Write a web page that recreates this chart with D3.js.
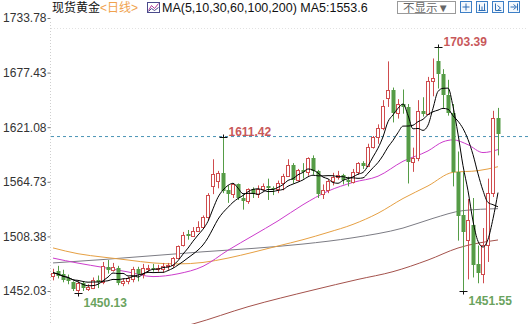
<!DOCTYPE html>
<html><head><meta charset="utf-8">
<script src="https://cdn.jsdelivr.net/npm/d3@7"></script>
<style>
html,body{margin:0;padding:0;background:#fff;}
svg{display:block;}
</style></head>
<body>
<svg id="c" width="528" height="324"></svg>
<script>
// ---------- data ----------
const dates = ["11-19","11-20","11-21","11-22","11-25","11-26","11-27","11-28","11-29",
"12-02","12-03","12-04","12-05","12-06","12-09","12-10","12-11","12-12","12-13","12-16","12-17","12-18","12-19","12-20","12-23","12-24","12-26","12-27","12-30","12-31",
"01-02","01-03","01-06","01-07","01-08","01-09","01-10","01-13","01-14","01-15","01-16","01-17","01-20","01-21","01-22","01-23","01-24","01-27","01-28","01-29","01-30","01-31",
"02-03","02-04","02-05","02-06","02-07","02-10","02-11","02-12","02-13","02-14","02-17","02-18","02-19","02-20","02-21","02-24","02-25","02-26","02-27","02-28",
"03-02","03-03","03-04","03-05","03-06","03-09","03-10","03-11","03-12","03-13","03-16","03-17","03-18","03-19","03-20","03-23","03-24","03-25"];
const open  = [1467,1473,1470,1465,1461,1453,1460,1454,1455,1463,1461,1477,1474,1476,1460,1462,1464,1475,1470,1475,1476,1475,1475,1478,1479,1486,1499,1511,1509,1514,
1518,1528,1560,1566,1574,1556,1552,1562,1548,1545,1557,1552,1557,1560,1558,1557,1563,1571,1582,1567,1577,1575,1589,1576,1552,1556,1566,1570,1572,1567,
1565,1575,1584,1581,1601,1611,1620,1651,1659,1636,1645,1642,1585,1589,1638,1635,1669,1689,1676,1654,1636,1575,1530,1505,1520,1480,1470,1499,1553,1631];
const high  = [1475,1478,1474,1469,1462,1462,1462,1459,1466,1468,1482,1484,1481,1478,1465,1467,1477,1477,1480,1479,1480,1479,1481,1481,1487,1499,1513,1515,1518,1524,
1530,1553,1588,1576,1611.42,1561,1563,1563,1552,1558,1559,1561,1563,1568,1560,1566,1573,1588,1584,1578,1584,1590,1592,1577,1562,1567,1574,1576,1573,1570,
1578,1585,1586,1604,1612,1624,1649,1689,1662,1650,1660,1645,1600,1649,1652,1673,1692,1703.39,1681,1670,1645,1596,1575,1547,1548,1499,1517,1568,1638,1641];
const low   = [1463,1465,1461,1459,1452,1450.13,1452,1452,1454,1455,1459,1470,1472,1458,1457,1459,1461,1462,1465,1472,1472,1472,1471,1474,1476,1485,1498,1505,1508,1513,
1517,1525,1552,1558,1553,1543,1548,1546,1536,1542,1548,1548,1556,1546,1551,1553,1556,1570,1563,1565,1568,1571,1572,1548,1547,1553,1561,1567,1562,1560,
1563,1572,1578,1580,1599,1604,1618,1642,1626,1630,1635,1563,1575,1586,1632,1634,1653,1661,1641,1633,1560,1504,1451.55,1464,1466,1460,1460,1482,1549,1592];
const close = [1471,1468,1463,1462,1454,1460,1455,1456,1463,1461,1478,1474,1477,1460,1462,1465,1475,1470,1476,1476,1475,1476,1478,1478.5,1486,1498,1510,1509,1514,1518,
1528,1551,1573,1574,1555,1552,1562,1548,1545,1557,1552,1557,1560,1558,1557,1563,1571,1582,1567,1577,1575,1589,1576,1552,1556,1566,1570,1572,1567,1565,
1575,1584,1581,1601,1611,1620,1643,1659,1636,1645,1642,1585,1589,1638,1635,1669,1672,1676,1654,1636,1575,1529,1513,1525,1479,1471,1499,1553,1631,1614];

// longer moving averages at sample candles
const ma30Idx  = [0,5,10,15,20,25,30,35,40,45,50,55,60,65,70,75,78,80,83,86,89];
const ma30     = [1486.0,1480.8,1476.4,1471.7,1466.9,1469.8,1477.5,1494.1,1509.2,1524.4,1541.1,1555.1,1564.1,1570.5,1585.9,1596.6,1606.0,1608.0,1603.0,1594.9,1598.0];
const ma60Idx  = [0,5,10,15,20,25,30,35,40,45,50,55,60,65,70,75,80,85,89];
const ma60     = [1496.5,1490.5,1487,1484,1481,1480,1481.5,1486,1492,1498.5,1505,1512.5,1520.8,1532.3,1547.5,1560.5,1574.5,1576.2,1580.3];
const ma100Idx = [0,10,20,30,40,50,60,70,76,82,89];
const ma100    = [1481,1484.5,1488.5,1492.5,1496,1500.5,1507,1517,1527,1535,1537];
const ma200Idx = [0,14,28,39,52,61,68,75,81,89];
const ma200    = [1385,1402,1418,1435.8,1453,1464,1472,1484,1496.4,1504.7];

const yTicks = [1452.03,1508.38,1564.73,1621.08,1677.43,1733.78];
const refLevel = 1611.42;
const marks = [ // index of extreme candle, kind
  {i:34, kind:"high"}, {i:77, kind:"high"}, {i:5, kind:"low"}, {i:82, kind:"low"}];

// ---------- drawing ----------
const W = 528, H = 324;
const LATIN = "'Liberation Sans', Arial, 'Noto Sans CJK SC', sans-serif";
const RED = "#cf4c4e", GREEN = "#559c46";
const svg = d3.select("#c");

const x = d3.scalePoint().domain(dates).range([53, 498]);
const y = d3.scaleLinear().domain([1452.03, 1733.78]).range([291, 18]);

svg.append("defs").append("clipPath").attr("id","plot")
  .append("rect").attr("x",51).attr("y",29).attr("width",W-51).attr("height",H-29);

// frame lines
svg.append("line").attr("x1",50.5).attr("x2",50.5).attr("y1",22).attr("y2",H)
  .attr("stroke","#cfcfcf").attr("stroke-dasharray","1,2");
svg.append("line").attr("x1",51).attr("x2",W).attr("y1",28.5).attr("y2",28.5)
  .attr("stroke","#e2e2e2").attr("stroke-dasharray","1,2");

// y axis
const gA = svg.append("g").attr("transform","translate(50.5,0)")
  .call(d3.axisLeft(y).tickValues(yTicks).tickFormat(d3.format(".2f")).tickSize(3).tickPadding(1));
gA.select(".domain").remove();
gA.attr("font-family", LATIN).attr("font-size", 12);
gA.selectAll("line").attr("stroke","#777");
gA.selectAll("text").attr("fill","#333");

const plot = svg.append("g").attr("clip-path","url(#plot)");

// reference dashed line at the January high
plot.append("line").attr("x1",51).attr("x2",W).attr("y1",y(refLevel)).attr("y2",y(refLevel))
  .attr("stroke","#4a93b5").attr("stroke-dasharray","3,3").attr("stroke-width",1);

// moving averages
const avg = (n) => close.map((_, i) => d3.mean(close.slice(Math.max(0, i-n+1), i+1)));
const ma5 = avg(5), ma10 = avg(10);
const lineFull = d3.line().x((d,i)=>x(dates[i])).y(d=>y(d)).curve(d3.curveMonotoneX);
const lineSparse = (idx) => d3.line().x((d,k)=>x(dates[idx[k]])).y(d=>y(d)).curve(d3.curveMonotoneX);

const maDefs = [
  {d: lineSparse(ma200Idx)(ma200), c:"#a4524c"},
  {d: lineSparse(ma100Idx)(ma100), c:"#7c7c84"},
  {d: lineSparse(ma60Idx)(ma60),   c:"#e6a043"},
  {d: lineSparse(ma30Idx)(ma30),   c:"#cc3ccc"},
];
maDefs.forEach(m => plot.append("path").attr("d", m.d).attr("fill","none")
  .attr("stroke", m.c).attr("stroke-width",1));

// candles
const cg = plot.append("g");
dates.forEach((dt, i) => {
  const cx = Math.round(x(dt));
  const o = open[i], c = close[i], h = high[i], l = low[i];
  const up = c >= o;
  const col = up ? RED : GREEN;
  const yt = Math.round(y(Math.max(o,c))), yb = Math.round(y(Math.min(o,c)));
  const yh = y(h), yl = y(l);
  if (up) {
    cg.append("line").attr("x1",cx+0.5).attr("x2",cx+0.5).attr("y1",yh).attr("y2",yt)
      .attr("stroke",col);
    cg.append("line").attr("x1",cx+0.5).attr("x2",cx+0.5).attr("y1",yb+1).attr("y2",yl)
      .attr("stroke",col);
    cg.append("rect").attr("x",cx-1.5).attr("y",yt+0.5).attr("width",3)
      .attr("height",Math.max(1, yb-yt)).attr("fill","#fff").attr("stroke",col);
  } else {
    cg.append("line").attr("x1",cx+0.5).attr("x2",cx+0.5).attr("y1",yh).attr("y2",yl)
      .attr("stroke",col);
    cg.append("rect").attr("x",cx-1.5).attr("y",yt).attr("width",4)
      .attr("height",Math.max(1, yb-yt)).attr("fill",col);
  }
});

// short MAs on top of candles
plot.append("path").attr("d", lineFull(ma10)).attr("fill","none").attr("stroke","#000").attr("stroke-width",1);
plot.append("path").attr("d", lineFull(ma5)).attr("fill","none").attr("stroke","#000").attr("stroke-width",1);

// extreme markers and labels
marks.forEach(m => {
  const cx = Math.round(x(dates[m.i])) + 0.5;
  const v = m.kind === "high" ? high[m.i] : low[m.i];
  const yy = Math.round(y(v)) + 0.5;
  svg.append("line").attr("x1",cx-4).attr("x2",cx+4).attr("y1",yy).attr("y2",yy)
    .attr("stroke","#111");
  svg.append("line").attr("x1",cx).attr("x2",cx)
    .attr("y1", m.kind==="high" ? yy-3 : yy).attr("y2", m.kind==="high" ? yy : yy+3)
    .attr("stroke","#111");
  const t = svg.append("text").text(d3.format(".2f")(v))
    .attr("font-family", LATIN).attr("font-size",12).attr("font-weight","bold");
  if (m.kind === "high") {
    t.attr("x", cx+5).attr("y", yy-2).attr("fill","#c8585a");
  } else {
    t.attr("x", cx+5).attr("y", yy+13).attr("fill","#6aa35e");
  }
});

// ---------- header ----------
const hdr = svg.append("g").attr("font-family", LATIN).attr("font-size",12);
hdr.append("text").attr("x",52).attr("y",12).attr("fill","#111").text("现货黄金");
hdr.append("text").attr("x",100).attr("y",12).attr("fill","#f0a24e").text("<日线>");
// little indicator icon
const ic = hdr.append("g").attr("transform","translate(147.5,2.5)");
ic.append("rect").attr("width",12).attr("height",10).attr("fill","#fff").attr("stroke","#4b4b8c");
ic.append("path").attr("d","M1,8 L4,3 L7,6 L11,1").attr("fill","none").attr("stroke","#b03a9a");
ic.append("path").attr("d","M1,9 L4,6 L7,8 L11,5").attr("fill","none").attr("stroke","#4b4b8c");
hdr.append("text").attr("x",162).attr("y",12).attr("fill","#111").attr("font-size",12.5)
  .text("MA(5,10,30,60,100,200) MA5:1553.6");
// button
hdr.append("rect").attr("x",397.5).attr("y",1.5).attr("width",58).attr("height",12)
  .attr("fill","#fff").attr("stroke","#9a9a9a");
hdr.append("text").attr("x",403).attr("y",12).attr("fill","#666").attr("font-size",11.5).text("不显示▼");
// tool icons
[460.5, 476.5, 492.5, 508.5].forEach((bx, k) => {
  const g = hdr.append("g").attr("transform",`translate(${bx},1.5)`);
  g.append("rect").attr("width",11).attr("height",11).attr("fill","#f4f8fc").attr("stroke","#3d7fc6");
  const p = ["M5.5,2 V9 M2,5.5 H9","M3,3 V9 M5.5,5 V9 M8,2 V9 M2,9 H9","M3,2 V9 H9 M5,4 L8,6.5 L5,9","M2,5.5 H7 M5,3 L8,5.5 L5,8 M9,2 V9"][k];
  g.append("path").attr("d",p).attr("fill","none").attr("stroke","#2d6db5");
});
</script>
</body></html>
